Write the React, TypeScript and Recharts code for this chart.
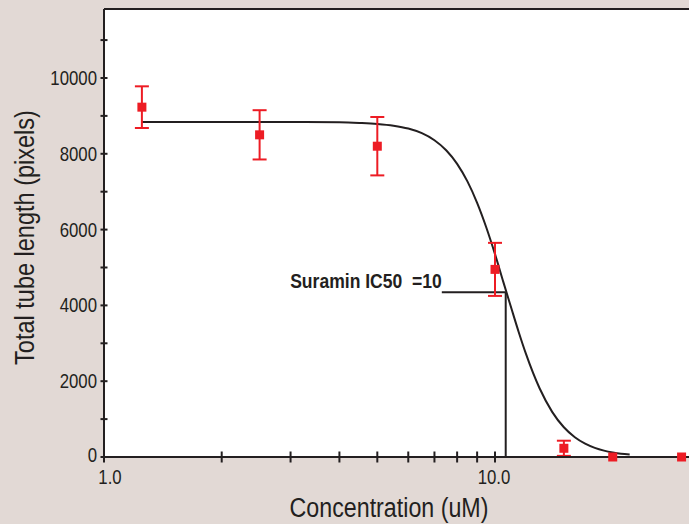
import React from 'react';
import {
  ComposedChart,
  Line,
  Scatter,
  XAxis,
  YAxis,
  CartesianGrid,
  ErrorBar,
  ReferenceLine,
  Label,
} from 'recharts';

// Measured points (concentration in uM, total tube length in pixels, error)
const concentrations = [1.25, 2.5, 5, 10, 15, 20, 30];
const tubeLength = [9230, 8500, 8200, 4950, 230, 0, 0];
const tubeError = [550, 650, 770, 700, 200, 0, 0];

// Fitted dose-response curve
const fitX = [1.25, 2, 3, 4, 4.5, 5, 5.5, 6, 6.5, 7, 7.5, 8, 8.5, 9, 9.5, 10, 10.5, 11, 11.5, 12, 13, 14, 15, 16, 17, 18, 19, 20, 21, 22.1];
const fitY = [8840, 8840, 8840, 8832, 8815, 8789, 8742, 8665, 8543, 8358, 8094, 7735, 7271, 6706, 6056, 5352, 4620, 3936, 3292, 2719, 1813, 1191, 784, 522, 353, 242, 169, 120, 87, 68];

// Axes
const yTicks = [0, 1000, 2000, 3000, 4000, 5000, 6000, 7000, 8000, 9000, 10000, 11000];
const yLabelled = [0, 2000, 4000, 6000, 8000, 10000];
const xTicks = [1, 2, 3, 4, 5, 6, 7, 8, 9, 10];
const xLabels: Record<number, string> = { 1: '1.0', 10: '10.0' };
const xDomain = [1, 31.34];
const yDomain = [0, 11820];

// IC50 annotation
const ic50 = 10.65;
const ic50Level = 4350;
const ic50LineStart = 7.31;
const ic50Text = 'Suramin IC50\u00a0 =10';

const INK = '#231f20';
const RED = '#ed1c24';
const BG = '#e2d9d5';
const FONT = '"Liberation Sans", Arial, sans-serif';

const withError = concentrations
  .map((x, i) => ({ x, y: tubeLength[i], err: tubeError[i] }))
  .filter((d) => d.err > 0);
const withoutError = concentrations
  .map((x, i) => ({ x, y: tubeLength[i], err: tubeError[i] }))
  .filter((d) => d.err === 0);
const fitData = fitX.map((x, i) => ({ x, y: fitY[i] }));

const SquareDot = (props: any) => {
  const { cx, cy } = props;
  if (cx == null || cy == null) return null;
  return <rect x={cx - 4.5} y={cy - 4.5} width={9} height={9} fill={RED} />;
};

const YTick = (props: any) => {
  const { x, y, payload } = props;
  const v = payload.value;
  const show = yLabelled.includes(v);
  return (
    <g>
      <line x1={x - 3.5} x2={x + 3.5} y1={y} y2={y} stroke={INK} strokeWidth={2} />
      {show && (
        <text
          transform={`translate(${x - 7},${y + (v === 0 ? 4.5 : 7)}) scale(0.84,1)`}
          textAnchor="end"
          fontSize={20}
          fontFamily={FONT}
          fill={INK}
        >
          {v}
        </text>
      )}
    </g>
  );
};

const XTick = (props: any) => {
  const { x, y, payload } = props;
  const v = payload.value;
  const label = xLabels[v];
  return (
    <g>
      <line x1={x} x2={x} y1={y - 5.5} y2={y + 5.5} stroke={INK} strokeWidth={2} />
      {label && (
        <text
          transform={`translate(${x + (v === 1 ? 6 : -1)},${y + 27}) scale(0.84,1)`}
          textAnchor="middle"
          fontSize={20}
          fontFamily={FONT}
          fill={INK}
        >
          {label}
        </text>
      )}
    </g>
  );
};

const XTitle = (props: any) => {
  const { viewBox } = props;
  return (
    <text
      transform={`translate(${viewBox.x + 285},${viewBox.y + 60}) scale(0.83,1)`}
      textAnchor="middle"
      fontSize={28}
      fontFamily={FONT}
      fill={INK}
    >
      Concentration (uM)
    </text>
  );
};

const YTitle = (props: any) => {
  const { viewBox } = props;
  return (
    <text
      transform={`translate(${viewBox.x + 33.5},${viewBox.y + viewBox.height / 2 + 4.5}) rotate(-90) scale(0.84,1)`}
      textAnchor="middle"
      fontSize={28}
      fontFamily={FONT}
      fill={INK}
    >
      Total tube length (pixels)
    </text>
  );
};

const IC50Label = (props: any) => {
  const { viewBox } = props;
  if (!viewBox) return null;
  return (
    <text
      transform={`translate(${viewBox.x},${viewBox.y - 4}) scale(0.9,1)`}
      textAnchor="end"
      fontSize={19.5}
      fontWeight="bold"
      fontFamily={FONT}
      fill={INK}
    >
      {ic50Text}
    </text>
  );
};

export default function App() {
  return (
    <div style={{ position: 'absolute', left: 0, top: 0, width: 689, height: 524, background: BG }}>
      <ComposedChart width={689} height={524} margin={{ top: 9, right: 0, bottom: 0, left: 0 }}>
        <CartesianGrid fill="#ffffff" stroke="none" horizontal={false} vertical={false} />
        <XAxis
          dataKey="x"
          type="number"
          scale="log"
          domain={xDomain}
          ticks={xTicks}
          tick={<XTick />}
          tickLine={false}
          tickSize={0}
          tickMargin={0}
          interval={0}
          height={67}
          axisLine={{ stroke: INK, strokeWidth: 2 }}
        >
          <Label content={<XTitle />} />
        </XAxis>
        <YAxis
          dataKey="y"
          type="number"
          domain={yDomain}
          ticks={yTicks}
          tick={<YTick />}
          tickLine={false}
          tickSize={0}
          tickMargin={0}
          interval={0}
          width={104}
          axisLine={{ stroke: INK, strokeWidth: 2 }}
        >
          <Label content={<YTitle />} />
        </YAxis>
        <ReferenceLine y={yDomain[1]} stroke={INK} strokeWidth={2} />
        <ReferenceLine
          segment={[
            { x: ic50LineStart, y: ic50Level },
            { x: ic50, y: ic50Level },
          ]}
          stroke={INK}
          strokeWidth={2}
          label={(p: any) => <IC50Label {...p} />}
        />
        <ReferenceLine
          segment={[
            { x: ic50, y: ic50Level },
            { x: ic50, y: 0 },
          ]}
          stroke={INK}
          strokeWidth={2}
        />
        <Line
          data={fitData}
          dataKey="y"
          type="monotone"
          stroke={INK}
          strokeWidth={2}
          dot={false}
          activeDot={false}
          isAnimationActive={false}
        />
        <Scatter data={withError} dataKey="y" shape={<SquareDot />} isAnimationActive={false}>
          <ErrorBar dataKey="err" direction="y" width={7} strokeWidth={2} stroke={RED} />
        </Scatter>
        <Scatter data={withoutError} dataKey="y" shape={<SquareDot />} isAnimationActive={false} />
      </ComposedChart>
    </div>
  );
}
